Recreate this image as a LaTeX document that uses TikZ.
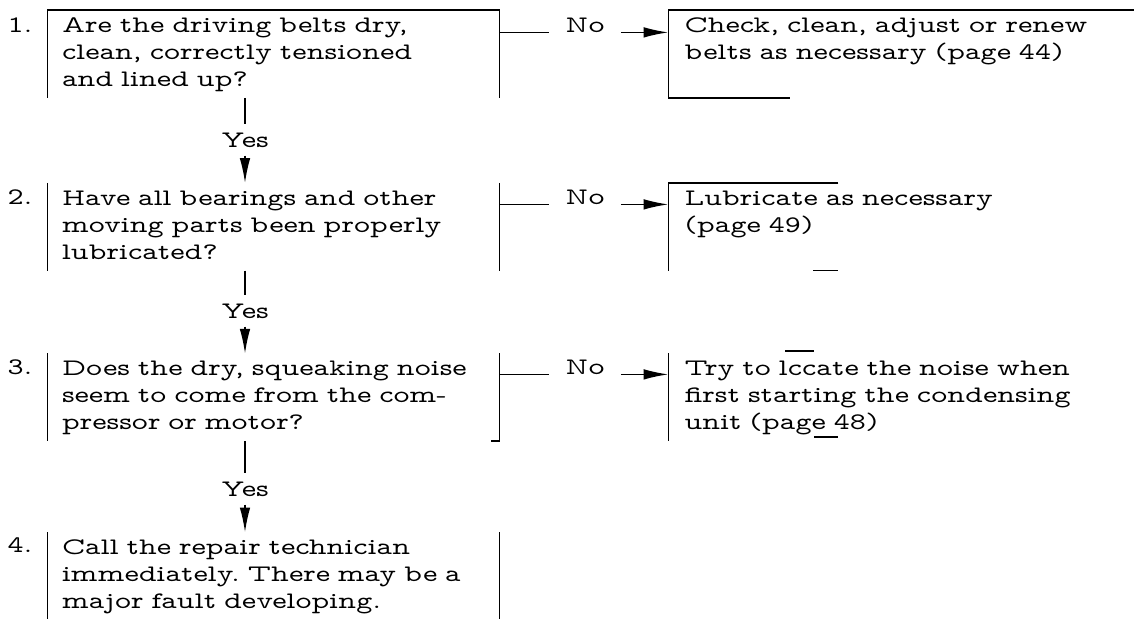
\documentclass[tikz,border=0pt]{standalone}
\usepackage{fontspec}
\newfontfamily\typewr{lmmonoprop10-regular.otf}[FakeStretch=1.29]
\usetikzlibrary{arrows.meta,positioning}
\newcommand{\typed}{\typewr\fontsize{13.5}{15.4}\selectfont\frenchspacing}

\begin{document}
\begin{tikzpicture}[x=0.02cm,y=-0.02cm,font=\typed,
      qbox/.style={minimum width=9.02cm,minimum height=1.74cm,text width=8.46cm,
                   inner xsep=0.28cm,inner ysep=0pt,align=left,
                   execute at begin node=\strut,execute at end node=\strut},
      abox/.style={qbox,minimum width=9.3cm,text width=8.66cm,inner xsep=0.32cm},
      lbl/.style={inner xsep=0.32cm,inner ysep=0.16cm},
      num/.style={anchor=base,inner sep=0pt},
      rule/.style={line width=0.8pt},
      arr/.style={-{Latex[length=14pt,width=6pt]},line width=0.8pt}]
    \useasboundingbox (0,0) rectangle (1138,618);
    \node[qbox] (q1) at (273.5,54) {Are the driving belts dry,\\ clean, correctly tensioned\\ and lined up?};
    \node[qbox,below=1.7cm of q1] (q2) {Have all bearings and other\\ moving parts been properly\\ lubricated?};
    \node[qbox,below=1.66cm of q2] (q3) {Does the dry, squeaking noise\\ seem to come from the com-\\ pressor or motor?};
    \node[qbox,below=1.82cm of q3] (q4) {Call the repair technician\\ immediately. There may be a\\ major fault developing.};
    \node[abox,right=3.38cm of q1] (a1) {Check, clean, adjust or renew\\ belts as necessary (page 44)\\};
    \node[abox,right=3.38cm of q2] (a2) {Lubricate as necessary\\ (page 49)\\};
    \node[abox,right=3.38cm of q3] (a3) {Try to lccate the noise when\\ first starting the condensing\\ unit (page 48)};
    \node[num] (n1) at (20,32.4) {1.};
    \node[num] (n2) at (20,204.4) {2.};
    \node[num] (n3) at (20,374.4) {3.};
    \node[num] (n4) at (20,552.4) {4.};
    \node[lbl,anchor=base] (no1) at (585,32.4) {No};
    \node[lbl,anchor=base] (no2) at (585,204.4) {No};
    \node[lbl,anchor=base] (no3) at (585,374.4) {No};
    \node[lbl] (y1) at (245,140) {Yes};
    \node[lbl] (y2) at (245,311) {Yes};
    \node[lbl] (y3) at (245,489) {Yes};
    \draw[rule] (q1.south west) -- (q1.north west) -- (q1.north east) -- (q1.south east);
    \draw[rule] (q2.north west) -- (q2.south west) (q2.north east) -- (q2.south east);
    \draw[rule] (q3.north west) -- (q3.south west) (q3.north east) -- (q3.south east) -- ++(-8,0);
    \draw[rule] (q4.north west) -- (q4.south west) (q4.north east) -- (q4.south east);
    \draw[rule] (a1.north east) -- (a1.north west) -- (a1.south west) -- ++(122,0);
    \draw[rule] (a2.north west) ++(170,0) -- (a2.north west) -- (a2.south west);
    \draw[rule] (a2.south west) ++(145,0) -- ++(25,0);
    \draw[rule] (a3.north west) -- (a3.south west);
    \draw[rule] (785,351) -- (814,351) (814,437) -- (838,437);
    \draw[rule] (no1.base west -| q1.east) -- (no1.base west);
    \draw[arr] (no1.base east) -- (no1.base east -| a1.west);
    \draw[rule] (no2.base west -| q2.east) -- (no2.base west);
    \draw[arr] (no2.base east) -- (no2.base east -| a2.west);
    \draw[rule] (no3.base west -| q3.east) -- (no3.base west);
    \draw[arr] (no3.base east) -- (no3.base east -| a3.west);
    \draw[rule] (q1.south -| y1) -- (y1.north);
    \draw[arr] (y1.south) -- (y1.south |- q2.north);
    \draw[rule] (q2.south -| y2) -- (y2.north);
    \draw[arr] (y2.south) -- (y2.south |- q3.north);
    \draw[rule] (q3.south -| y3) -- (y3.north);
    \draw[arr] (y3.south) -- (y3.south |- q4.north);
  \end{tikzpicture}
\end{document}
